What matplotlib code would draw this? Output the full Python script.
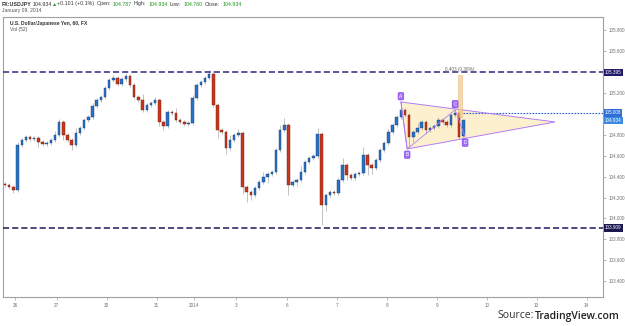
import numpy as np
import matplotlib.pyplot as plt
from matplotlib.patches import Rectangle, Polygon
import matplotlib.transforms as mtrans

W, H = 625, 326

# hourly-ish bars (2h per bar)
closes = [104.320, 104.301, 104.272, 104.702, 104.750, 104.779, 104.759, 104.769, 104.731, 104.712,
          104.721, 104.750, 104.798, 104.922, 104.798, 104.750, 104.702, 104.817, 104.865, 104.941,
          104.970, 105.075, 105.132, 105.161, 105.247, 105.323, 105.343, 105.285, 105.333, 105.362,
          105.276, 105.161, 105.132, 105.037, 105.084, 105.104, 105.132, 104.922, 104.884, 105.018,
          105.008, 104.941, 104.922, 104.903, 104.912, 105.151, 105.276, 105.304, 105.343, 105.381,
          105.084, 104.845, 104.826, 104.673, 104.750, 104.798, 104.817, 104.301, 104.253, 104.224,
          104.291, 104.348, 104.396, 104.425, 104.444, 104.654, 104.845, 104.893, 104.320, 104.348,
          104.367, 104.444, 104.540, 104.578, 104.597, 104.807, 104.128, 104.224, 104.253, 104.243,
          104.367, 104.511, 104.415, 104.387, 104.425, 104.434, 104.606, 104.511, 104.482, 104.559,
          104.654, 104.721, 104.826, 104.893, 104.970, 105.037, 104.989, 104.779, 104.826, 104.865,
          104.922, 104.845, 104.865, 104.884, 104.941, 104.922, 104.893, 104.989, 105.008, 104.779,
          104.934]
first_open = 104.330
last_open = 104.787
wick_up = [0.02, 0.02, 0.02, 0.03, 0.02, 0.02, 0.02, 0.02, 0.02, 0.02,
           0.02, 0.02, 0.04, 0.03, 0.02, 0.02, 0.02, 0.05, 0.02, 0.02,
           0.02, 0.03, 0.02, 0.02, 0.02, 0.02, 0.03, 0.02, 0.02, 0.03,
           0.02, 0.02, 0.02, 0.06, 0.02, 0.02, 0.03, 0.02, 0.02, 0.02,
           0.02, 0.05, 0.02, 0.02, 0.02, 0.03, 0.02, 0.02, 0.02, 0.04,
           0.02, 0.02, 0.02, 0.02, 0.05, 0.02, 0.04, 0.02, 0.02, 0.02,
           0.02, 0.02, 0.05, 0.02, 0.02, 0.02, 0.05, 0.07, 0.02, 0.02,
           0.02, 0.06, 0.02, 0.02, 0.02, 0.06, 0.02, 0.02, 0.02, 0.02,
           0.02, 0.07, 0.02, 0.02, 0.02, 0.02, 0.08, 0.02, 0.02, 0.02,
           0.02, 0.02, 0.03, 0.02, 0.02, 0.07, 0.02, 0.02, 0.02, 0.05,
           0.02, 0.02, 0.02, 0.02, 0.03, 0.02, 0.02, 0.02, 0.03, 0.02, 0.00]
wick_dn = [0.02, 0.02, 0.03, 0.02, 0.02, 0.02, 0.02, 0.02, 0.05, 0.02,
           0.02, 0.02, 0.02, 0.02, 0.05, 0.02, 0.05, 0.02, 0.02, 0.02,
           0.02, 0.02, 0.02, 0.02, 0.02, 0.02, 0.02, 0.02, 0.02, 0.02,
           0.02, 0.02, 0.02, 0.02, 0.02, 0.02, 0.02, 0.04, 0.04, 0.02,
           0.02, 0.02, 0.02, 0.02, 0.02, 0.02, 0.02, 0.02, 0.02, 0.02,
           0.02, 0.08, 0.02, 0.06, 0.02, 0.02, 0.02, 0.07, 0.10, 0.05,
           0.02, 0.02, 0.02, 0.06, 0.02, 0.02, 0.02, 0.02, 0.10, 0.02,
           0.04, 0.02, 0.02, 0.02, 0.02, 0.02, 0.19, 0.06, 0.02, 0.02,
           0.02, 0.02, 0.05, 0.02, 0.02, 0.02, 0.02, 0.10, 0.06, 0.02,
           0.02, 0.02, 0.02, 0.02, 0.02, 0.02, 0.02, 0.11, 0.05, 0.02,
           0.02, 0.04, 0.02, 0.02, 0.02, 0.02, 0.02, 0.02, 0.02, 0.02, 0.027]

day_labels = ['26', '27', '30', '31', '2014', '3', '6', '7', '8', '9', '10', '13', '14']
day_pos = [2.9, 12.9, 24.9, 36.9, 45.8, 55.9, 68.1, 80.1, 92.1, 104.1, 116.1, 128.1, 140.1]
price_ticks = [103.4, 103.6, 103.8, 104.0, 104.2, 104.4, 104.6, 104.8, 105.0, 105.2, 105.4, 105.6, 105.8]
hidden_ticks = [105.0, 105.4]   # covered by the level badges

resistance = 105.395
support = 103.909
line_c = 105.008
last_price = 104.934

# triangle pattern points (bar index, price)
tri_x = [95.5, 97.0, 132.5]
tri_y = [105.113, 104.664, 104.922]
abcd_names = ['A', 'B', 'C', 'D']
abcd_x = [95.5, 97.0, 108.5, 110.9]
abcd_y = [105.113, 104.664, 105.037, 104.779]
measure_lo, measure_hi = 104.968, 105.371

opens = [first_open] + closes[:-1]
opens[-1] = last_open
o = np.array(opens)
c = np.array(closes)
hi = np.maximum(o, c) + np.array(wick_up)
lo = np.minimum(o, c) - np.array(wick_dn)
x = np.arange(len(c)) + 0.5

plt.rcParams['font.family'] = ['Liberation Sans', 'DejaVu Sans']

fig = plt.figure(figsize=(W / 100, H / 100), dpi=100)
ax = fig.add_axes([3 / W, 1 - 297 / H, 600 / W, (297 - 16.5) / H])
ax.set_xlim(0, 144)
ax.set_ylim(103.249, 105.93)

up = c >= o
ax.vlines(x, lo, hi, color='#a8a8a8', lw=0.5, zorder=2)
ax.bar(x[up], (c - o)[up] + 0.003, bottom=o[up], width=0.6, color='#2a72c4',
       edgecolor='#173f73', lw=0.3, zorder=3)
ax.bar(x[~up], (o - c)[~up] + 0.003, bottom=c[~up], width=0.6, color='#c8381e',
       edgecolor='#6e1a0c', lw=0.3, zorder=3)

# levels
ax.axhline(resistance, color='#2f2780', lw=1.1, ls=(0, (4, 2)), zorder=4)
ax.axhline(support, color='#1e1a5a', lw=1.1, ls=(0, (4, 2)), zorder=4)
ax.plot([x[-1], 144], [line_c, line_c], color='#2a5fd0', lw=0.8, ls=(0, (1.5, 1.2)), zorder=4)

# triangle
ax.add_patch(Polygon(list(zip(tri_x, tri_y)), closed=True, fc='#fdecc0', alpha=0.75,
                     ec='none', zorder=1))
ax.add_patch(Polygon(list(zip(tri_x, tri_y)), closed=True, fill=False, ec='#b27cf0',
                     lw=0.7, zorder=5))
ax.plot(abcd_x, abcd_y, color='#b27cf0', lw=0.6, zorder=5)
for name, px, py in zip(abcd_names, abcd_x, abcd_y):
    dy = 0.055 if name in ('A', 'C') else -0.055
    ax.text(px, py + dy, name, fontsize=3.5, color='white', ha='center', va='center',
            zorder=7, bbox=dict(boxstyle='round,pad=0.25', fc='#a66cff', ec='#7b3fe0', lw=0.4))

# measure bar
ax.add_patch(Rectangle((109.2, measure_lo), 1.0, measure_hi - measure_lo, fc='#f2c88a',
                       alpha=0.7, ec='#e0a860', lw=0.4, zorder=6))
ax.text(109.7, measure_hi + 0.05, '0.403 (0.38%)', fontsize=3.4, color='#666666',
        ha='center', va='center', zorder=7)

# axes styling
for s in ax.spines.values():
    s.set_color('#a0a0a0')
    s.set_linewidth(0.8)
ax.yaxis.tick_right()
ax.set_yticks(price_ticks)
ax.set_yticklabels(['' if v in hidden_ticks else '%.3f' % v for v in price_ticks])
ax.set_xticks(day_pos)
ax.set_xticklabels(day_labels)
ax.tick_params(axis='both', labelsize=3.3, colors='#707070', length=2, width=0.5, pad=2)
ax.tick_params(axis='both', color='#a0a0a0')

trans = mtrans.blended_transform_factory(ax.transAxes, ax.transData)
for val, fc in [(resistance, '#221a66'), (line_c, '#2e6fd8'),
                (last_price, '#3a8ae0'), (support, '#1a1650')]:
    ax.text(1.003, val, '%.3f' % val, transform=trans, fontsize=3.3, color='white',
            ha='left', va='center', zorder=8, clip_on=False,
            bbox=dict(boxstyle='square,pad=0.25', fc=fc, ec='none'))

ax.text(7 / 600, 1 - 6.5 / 280.5, 'U.S. Dollar/Japanese Yen, 60, FX', transform=ax.transAxes,
        fontsize=3.6, color='#333333', fontweight='bold', va='center')
ax.text(7 / 600, 1 - 13.5 / 280.5, 'Vol (52)', transform=ax.transAxes,
        fontsize=3.6, color='#555555', va='center')

# header
dark, green = '#333333', '#1a9a1a'
pieces = [('FX:USDJPY', 2, dark), ('104.934', 33, dark), ('\u25b2', 52, green),
          ('+0.101 (+0.1%)', 57, dark), ('Open:', 97, dark), ('104.787', 113, green),
          ('High:', 134, dark), ('104.934', 149, green), ('Low:', 170, dark),
          ('104.760', 184, green), ('Close:', 205, dark), ('104.934', 223, green)]
for txt, px, col in pieces:
    fig.text(px / W, 1 - 4 / H, txt, fontsize=3.8, color=col, va='center',
             fontweight='bold' if txt == 'FX:USDJPY' else 'normal')
fig.text(2 / W, 1 - 10.5 / H, 'January 09, 2014', fontsize=3.6, color='#555555', va='center')

fig.text(534 / W, 1 - 316 / H, 'Source:', fontsize=7.5, color='#333333', ha='right',
         va='center', family=['Open Sans', 'DejaVu Sans'])
fig.text(620 / W, 1 - 316 / H, 'TradingView.com', fontsize=7.5, color='#222222', ha='right',
         va='center', family=['Open Sans', 'DejaVu Sans'], fontweight='semibold')

fig.savefig('out.png', dpi=100)
